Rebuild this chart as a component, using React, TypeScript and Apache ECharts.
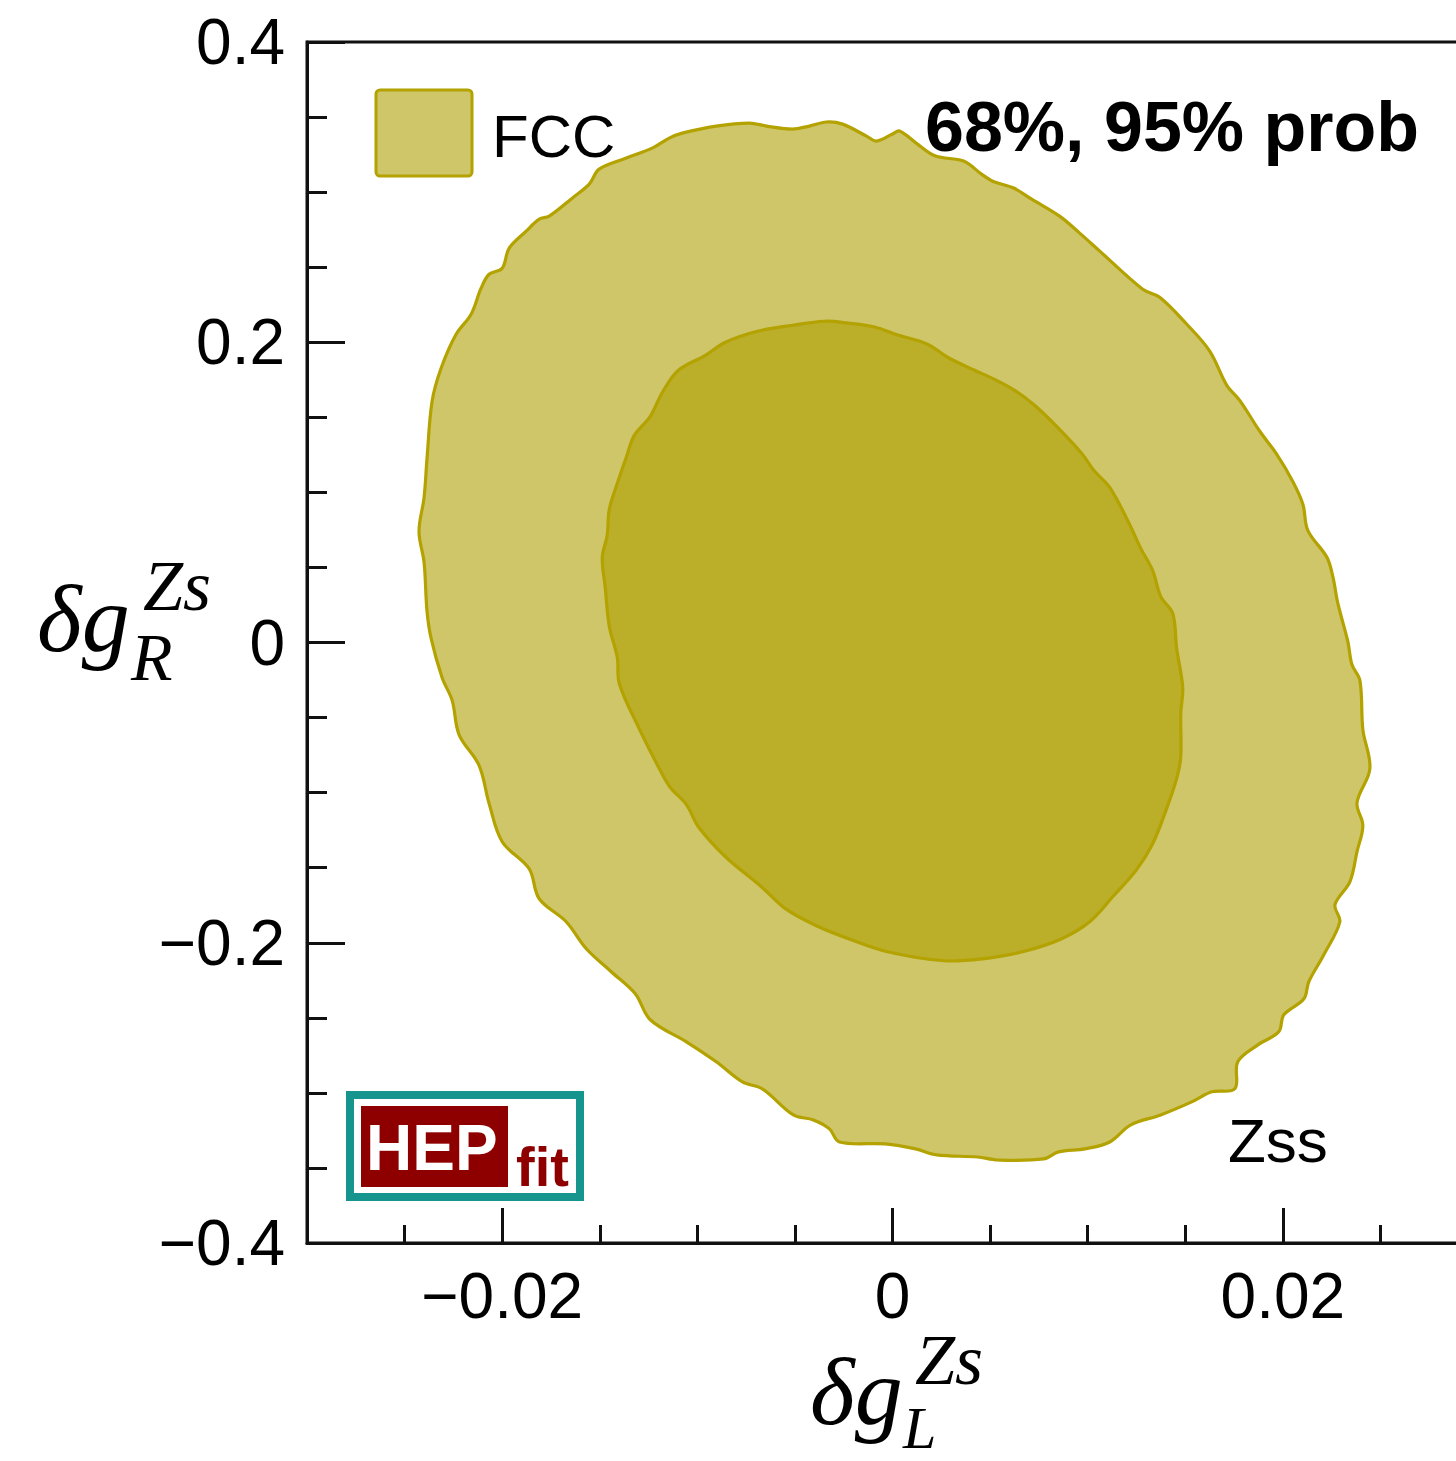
import React, { useEffect, useRef } from "react";
import * as echarts from "echarts";

// 95% probability contour (FCC), [delta g_L^Zs, delta g_R^Zs]
const outer95: [number, number][] = [
  [-0.02426, 0.074], [-0.024, 0.0967], [-0.02385, 0.1227], [-0.02359, 0.1607], [-0.02313, 0.1827],
  [-0.02236, 0.2053], [-0.02159, 0.2187], [-0.02108, 0.236], [-0.02067, 0.2453], [-0.02, 0.2493],
  [-0.01964, 0.2627], [-0.01877, 0.274], [-0.0181, 0.282], [-0.01759, 0.284], [-0.01641, 0.296],
  [-0.01554, 0.3053], [-0.01503, 0.3153], [-0.01364, 0.3227], [-0.01231, 0.3293], [-0.01144, 0.336],
  [-0.01077, 0.3393], [-0.00903, 0.344], [-0.00733, 0.346], [-0.00646, 0.344], [-0.00513, 0.342],
  [-0.00426, 0.344], [-0.00338, 0.3467], [-0.00256, 0.3453], [-0.00133, 0.3373], [-0.00082, 0.334],
  [0.0, 0.3387], [0.00036, 0.3407], [0.00128, 0.332], [0.00221, 0.324], [0.00364, 0.3207],
  [0.00456, 0.312], [0.00513, 0.3073], [0.00621, 0.3027], [0.00713, 0.2953], [0.00856, 0.284],
  [0.00959, 0.2727], [0.01062, 0.2607], [0.01282, 0.2353], [0.01369, 0.23], [0.01508, 0.212],
  [0.01626, 0.194], [0.01713, 0.1713], [0.01779, 0.1613], [0.01882, 0.1407], [0.01969, 0.1253],
  [0.02051, 0.1073], [0.02103, 0.092], [0.02128, 0.0747], [0.02226, 0.0567], [0.02256, 0.044],
  [0.02282, 0.026], [0.02333, 0.0007], [0.02354, -0.0147], [0.02395, -0.0253], [0.0241, -0.058],
  [0.02446, -0.084], [0.0238, -0.1067], [0.0241, -0.122], [0.0238, -0.1393], [0.02344, -0.1593],
  [0.02267, -0.1747], [0.02292, -0.186], [0.0221, -0.208], [0.02133, -0.226], [0.02108, -0.2373],
  [0.02005, -0.248], [0.01979, -0.2593], [0.01872, -0.268], [0.01769, -0.2793], [0.01754, -0.2973],
  [0.01636, -0.2993], [0.01533, -0.306], [0.01374, -0.3147], [0.01221, -0.3213], [0.01113, -0.3327],
  [0.00985, -0.3373], [0.00851, -0.3393], [0.00774, -0.344], [0.00538, -0.3447], [0.00436, -0.3427],
  [0.00226, -0.3413], [0.00118, -0.3373], [-0.00036, -0.334], [-0.00272, -0.3327], [-0.00323, -0.324],
  [-0.00405, -0.318], [-0.00508, -0.3147], [-0.00667, -0.2973], [-0.00769, -0.2927], [-0.00903, -0.2793],
  [-0.01056, -0.266], [-0.01241, -0.2513], [-0.01318, -0.234], [-0.01441, -0.2193], [-0.01569, -0.204],
  [-0.01672, -0.186], [-0.0181, -0.1707], [-0.01862, -0.1507], [-0.02, -0.1327], [-0.02067, -0.1073],
  [-0.02118, -0.082], [-0.02221, -0.0613], [-0.02256, -0.0387], [-0.02308, -0.0233], [-0.02364, 0.0027],
  [-0.02385, 0.0207], [-0.024, 0.0533],
];

// 68% probability contour
const inner68: [number, number][] = [
  [-0.00349, 0.214], [-0.00513, 0.2113], [-0.00692, 0.2073], [-0.00856, 0.2], [-0.00959, 0.1913],
  [-0.01097, 0.1813], [-0.01179, 0.1667], [-0.01241, 0.1507], [-0.01323, 0.138], [-0.01364, 0.1233],
  [-0.0141, 0.106], [-0.01451, 0.0887], [-0.01462, 0.0713], [-0.01487, 0.0567], [-0.01472, 0.0367],
  [-0.01451, 0.0107], [-0.0141, -0.01], [-0.014, -0.0273], [-0.01303, -0.056], [-0.01179, -0.088],
  [-0.01138, -0.0967], [-0.01056, -0.108], [-0.00995, -0.1227], [-0.00856, -0.1427], [-0.00672, -0.1627],
  [-0.00549, -0.1773], [-0.0039, -0.1887], [-0.00226, -0.1973], [-0.00026, -0.206], [0.00262, -0.212],
  [0.00462, -0.2107], [0.00667, -0.206], [0.00867, -0.1973], [0.0101, -0.186], [0.01133, -0.1687],
  [0.01251, -0.1513], [0.01333, -0.134], [0.01395, -0.114], [0.01456, -0.0907], [0.01477, -0.076],
  [0.01477, -0.0473], [0.01487, -0.03], [0.01456, -0.004], [0.01436, 0.0193], [0.01374, 0.0307],
  [0.01333, 0.048], [0.01272, 0.0627], [0.0121, 0.08], [0.01113, 0.1033], [0.01031, 0.1147],
  [0.00969, 0.126], [0.00846, 0.1433], [0.00728, 0.158], [0.00626, 0.168], [0.00523, 0.1753],
  [0.00421, 0.1813], [0.00282, 0.19], [0.00179, 0.1987], [0.00015, 0.2053], [-0.00087, 0.21],
  [-0.00226, 0.2127],
];

const xMajorTicks = [-0.02, 0, 0.02];
const xMinorTicks = [-0.025, -0.015, -0.01, -0.005, 0.005, 0.01, 0.015, 0.025];
const xRange = [-0.03, 0.03];
const yRange = [-0.4, 0.4];
const yInterval = 0.2;

const legendLabel = "FCC";
const probLabel = "68%, 95% prob";
const observableLabel = "Zss";

const OUTER_FILL = "#cfc66a";
const INNER_FILL = "#bbae29";
const EDGE = "#b3a200";
const AXIS = "#111111";
const SANS = "'Liberation Sans', Arial, Helvetica, sans-serif";
const SERIF = "'Liberation Serif', 'Times New Roman', serif";

// The reference frame is cropped on its right side: the chart is drawn wider
// than the visible window, and the part past the window is hidden.
const VIEW_W = 1456;
const VIEW_H = 1461;
const CHART_W = 1500;

const fmt = (v: number, d: number) =>
  Math.abs(v) < 1e-12 ? "0" : (v < 0 ? "\u2212" : "") + Math.abs(v).toFixed(d);

function contourSeries(name: string, pts: [number, number][], fill: string, z: number) {
  return {
    type: "custom",
    name,
    coordinateSystem: "cartesian2d",
    xAxisIndex: 0,
    yAxisIndex: 0,
    z,
    silent: true,
    clip: false,
    data: [[0, 0]],
    renderItem: (_params: any, api: any) => ({
      type: "polygon",
      shape: { points: pts.map((p) => api.coord(p)), smooth: 0.35 },
      style: { fill, stroke: EDGE, lineWidth: 3.2, lineJoin: "round" },
    }),
  };
}

export default function App() {
  const ref = useRef<HTMLDivElement>(null);

  useEffect(() => {
    if (!ref.current) return;
    const chart = echarts.init(ref.current, undefined, { renderer: "svg" });
    const axisLine = { show: true, onZero: false, lineStyle: { color: AXIS, width: 3 } };
    const option: any = {
      animation: false,
      backgroundColor: "#ffffff",
      grid: {
        left: 307,
        top: 42,
        right: 22,
        bottom: 218,
        show: true,
        borderColor: AXIS,
        borderWidth: 3,
        backgroundColor: "transparent",
      },
      xAxis: [
        {
          type: "value",
          position: "bottom",
          min: xRange[0],
          max: xRange[1],
          axisLine,
          axisTick: {
            show: true,
            inside: true,
            length: 35,
            customValues: xMajorTicks,
            lineStyle: { color: AXIS, width: 3 },
          },
          axisLabel: {
            show: true,
            customValues: xMajorTicks,
            formatter: (v: number) => fmt(v, 2),
            fontSize: 64,
            fontFamily: SANS,
            color: "#000",
            margin: 21,
          },
          splitLine: { show: false },
        },
        {
          type: "value",
          position: "bottom",
          min: xRange[0],
          max: xRange[1],
          axisLine: { show: false, onZero: false },
          axisTick: {
            show: true,
            inside: true,
            length: 18,
            customValues: xMinorTicks,
            lineStyle: { color: AXIS, width: 3 },
          },
          axisLabel: { show: false },
          splitLine: { show: false },
        },
      ],
      yAxis: {
        type: "value",
        min: yRange[0],
        max: yRange[1],
        interval: yInterval,
        axisLine,
        axisTick: { show: true, inside: true, length: 38, lineStyle: { color: AXIS, width: 3 } },
        minorTick: { show: true, splitNumber: 4, length: 20, lineStyle: { color: AXIS, width: 3 } },
        axisLabel: {
          formatter: (v: number) => fmt(v, 1),
          fontSize: 64,
          fontFamily: SANS,
          color: "#000",
          margin: 22,
        },
        splitLine: { show: false },
        minorSplitLine: { show: false },
      },
      series: [
        contourSeries("FCC 95%", outer95, OUTER_FILL, 2),
        contourSeries("FCC 68%", inner68, INNER_FILL, 3),
      ],
      graphic: [
        {
          type: "rect",
          z: 100,
          shape: { x: 376, y: 90, width: 96, height: 86, r: 4 },
          style: { fill: OUTER_FILL, stroke: EDGE, lineWidth: 3 },
        },
        {
          type: "text",
          z: 100,
          x: 492,
          y: 136,
          style: { text: legendLabel, fontSize: 60, fontFamily: SANS, fill: "#000", verticalAlign: "middle" },
        },
        {
          type: "text",
          z: 100,
          x: 925,
          y: 127,
          style: {
            text: probLabel,
            fontSize: 70,
            fontWeight: "bold",
            fontFamily: SANS,
            fill: "#000",
            verticalAlign: "middle",
          },
        },
        {
          type: "text",
          z: 100,
          x: 1228,
          y: 1140,
          style: { text: observableLabel, fontSize: 62, fontFamily: SANS, fill: "#000", verticalAlign: "middle" },
        },
        // HEPfit logo
        {
          type: "rect",
          z: 100,
          shape: { x: 350, y: 1095, width: 230, height: 102 },
          style: { fill: "#ffffff", stroke: "#16958f", lineWidth: 8 },
        },
        {
          type: "rect",
          z: 101,
          shape: { x: 361, y: 1106, width: 147, height: 81 },
          style: { fill: "#8e0000" },
        },
        {
          type: "text",
          z: 102,
          x: 366,
          y: 1148,
          style: {
            text: "HEP",
            fontSize: 64,
            fontWeight: "bold",
            fontFamily: SANS,
            fill: "#ffffff",
            verticalAlign: "middle",
          },
        },
        {
          type: "text",
          z: 102,
          x: 516,
          y: 1166,
          style: {
            text: "fit",
            fontSize: 56,
            fontWeight: "bold",
            fontFamily: SANS,
            fill: "#8e0000",
            verticalAlign: "middle",
          },
        },
        // y-axis title: delta g_R^{Zs}
        {
          type: "text",
          z: 100,
          x: 37,
          y: 618,
          style: { text: "\u03b4g", fontSize: 96, fontStyle: "italic", fontFamily: SERIF, fill: "#000", verticalAlign: "middle" },
        },
        {
          type: "text",
          z: 100,
          x: 143,
          y: 586,
          style: { text: "Zs", fontSize: 72, fontStyle: "italic", fontFamily: SERIF, fill: "#000", verticalAlign: "middle" },
        },
        {
          type: "text",
          z: 100,
          x: 131,
          y: 657,
          style: { text: "R", fontSize: 68, fontStyle: "italic", fontFamily: SERIF, fill: "#000", verticalAlign: "middle" },
        },
        // x-axis title: delta g_L^{Zs}
        {
          type: "text",
          z: 100,
          x: 810,
          y: 1391,
          style: { text: "\u03b4g", fontSize: 96, fontStyle: "italic", fontFamily: SERIF, fill: "#000", verticalAlign: "middle" },
        },
        {
          type: "text",
          z: 100,
          x: 915,
          y: 1360,
          style: { text: "Zs", fontSize: 72, fontStyle: "italic", fontFamily: SERIF, fill: "#000", verticalAlign: "middle" },
        },
        {
          type: "text",
          z: 100,
          x: 903,
          y: 1428,
          style: { text: "L", fontSize: 60, fontStyle: "italic", fontFamily: SERIF, fill: "#000", verticalAlign: "middle" },
        },
      ],
    };
    chart.setOption(option);
    return () => chart.dispose();
  }, []);

  return (
    <div
      style={{
        position: "absolute",
        left: 0,
        top: 0,
        width: VIEW_W,
        height: VIEW_H,
        overflow: "hidden",
        background: "#fff",
      }}
    >
      <div ref={ref} style={{ width: CHART_W, height: VIEW_H }} />
    </div>
  );
}
